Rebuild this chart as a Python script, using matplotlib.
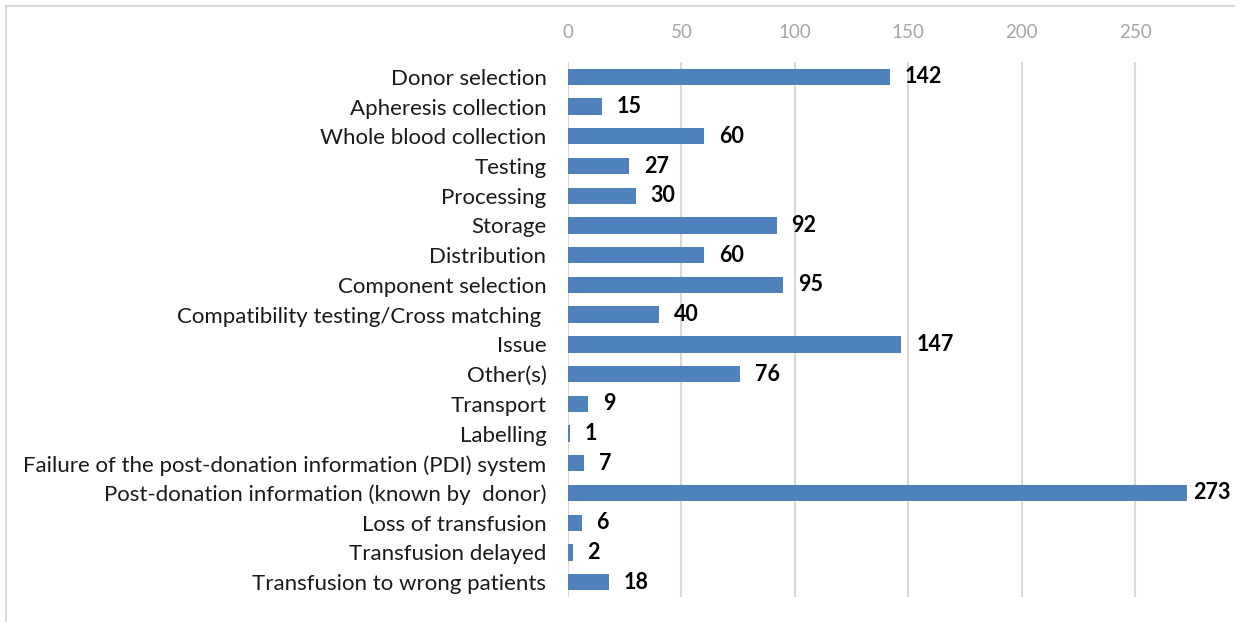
import matplotlib.pyplot as plt
from matplotlib.lines import Line2D

categories = [
    "Donor selection",
    "Apheresis collection",
    "Whole blood collection",
    "Testing",
    "Processing",
    "Storage",
    "Distribution",
    "Component selection",
    "Compatibility testing/Cross matching ",
    "Issue",
    "Other(s)",
    "Transport",
    "Labelling",
    "Failure of the post-donation information (PDI) system",
    "Post-donation information (known by  donor)",
    "Loss of transfusion",
    "Transfusion delayed",
    "Transfusion to wrong patients",
]
values = [142, 15, 60, 27, 30, 92, 60, 95, 40, 147, 76, 9, 1, 7, 273, 6, 2, 18]
xticks = [0, 50, 100, 150, 200, 250]

plt.rcParams['font.family'] = ['Lato', 'DejaVu Sans']

xmax = 292
fig = plt.figure(figsize=(12.35, 6.22), dpi=100)
ax = fig.add_axes([568 / 1235, 1 - 597 / 622, (568 + xmax * 2.268 - 568) / 1235, (597 - 62) / 622])

pos = list(range(len(categories)))
ax.barh(pos, values, height=0.55, color="#4f81bd", zorder=3)
for p, v in zip(pos, values):
    # labels that would run past the plot edge are pulled back inside, as Excel does
    if v + 6.5 + 16 > xmax:
        ax.text(xmax, p, str(v), va="center", ha="right", fontsize=15.5,
                fontweight="bold", color="black")
    else:
        ax.text(v + 6.5, p, str(v), va="center", ha="left", fontsize=15.5,
                fontweight="bold", color="black")

ax.set_ylim(len(categories) - 0.5, -0.5)
ax.set_xlim(0, xmax)
ax.set_yticks(pos)
ax.set_yticklabels(categories, fontsize=16, color="#1a1a1a")
ax.set_xticks(xticks)
ax.xaxis.tick_top()
ax.tick_params(axis="x", colors="#a6a6a6", labelsize=13.5, length=0, pad=15)
ax.tick_params(axis="y", length=0, pad=15.5)
ax.grid(axis="x", color="#d9d9d9", linewidth=1.5, zorder=0)
for s in ax.spines.values():
    s.set_visible(False)

# light frame around the chart area
fig.add_artist(Line2D([6 / 1235, 1], [1 - 6 / 622, 1 - 6 / 622], color="#d9d9d9", lw=1.5))
fig.add_artist(Line2D([6 / 1235, 6 / 1235], [0, 1 - 6 / 622], color="#d9d9d9", lw=1.5))

fig.savefig("out.png", dpi=100)
